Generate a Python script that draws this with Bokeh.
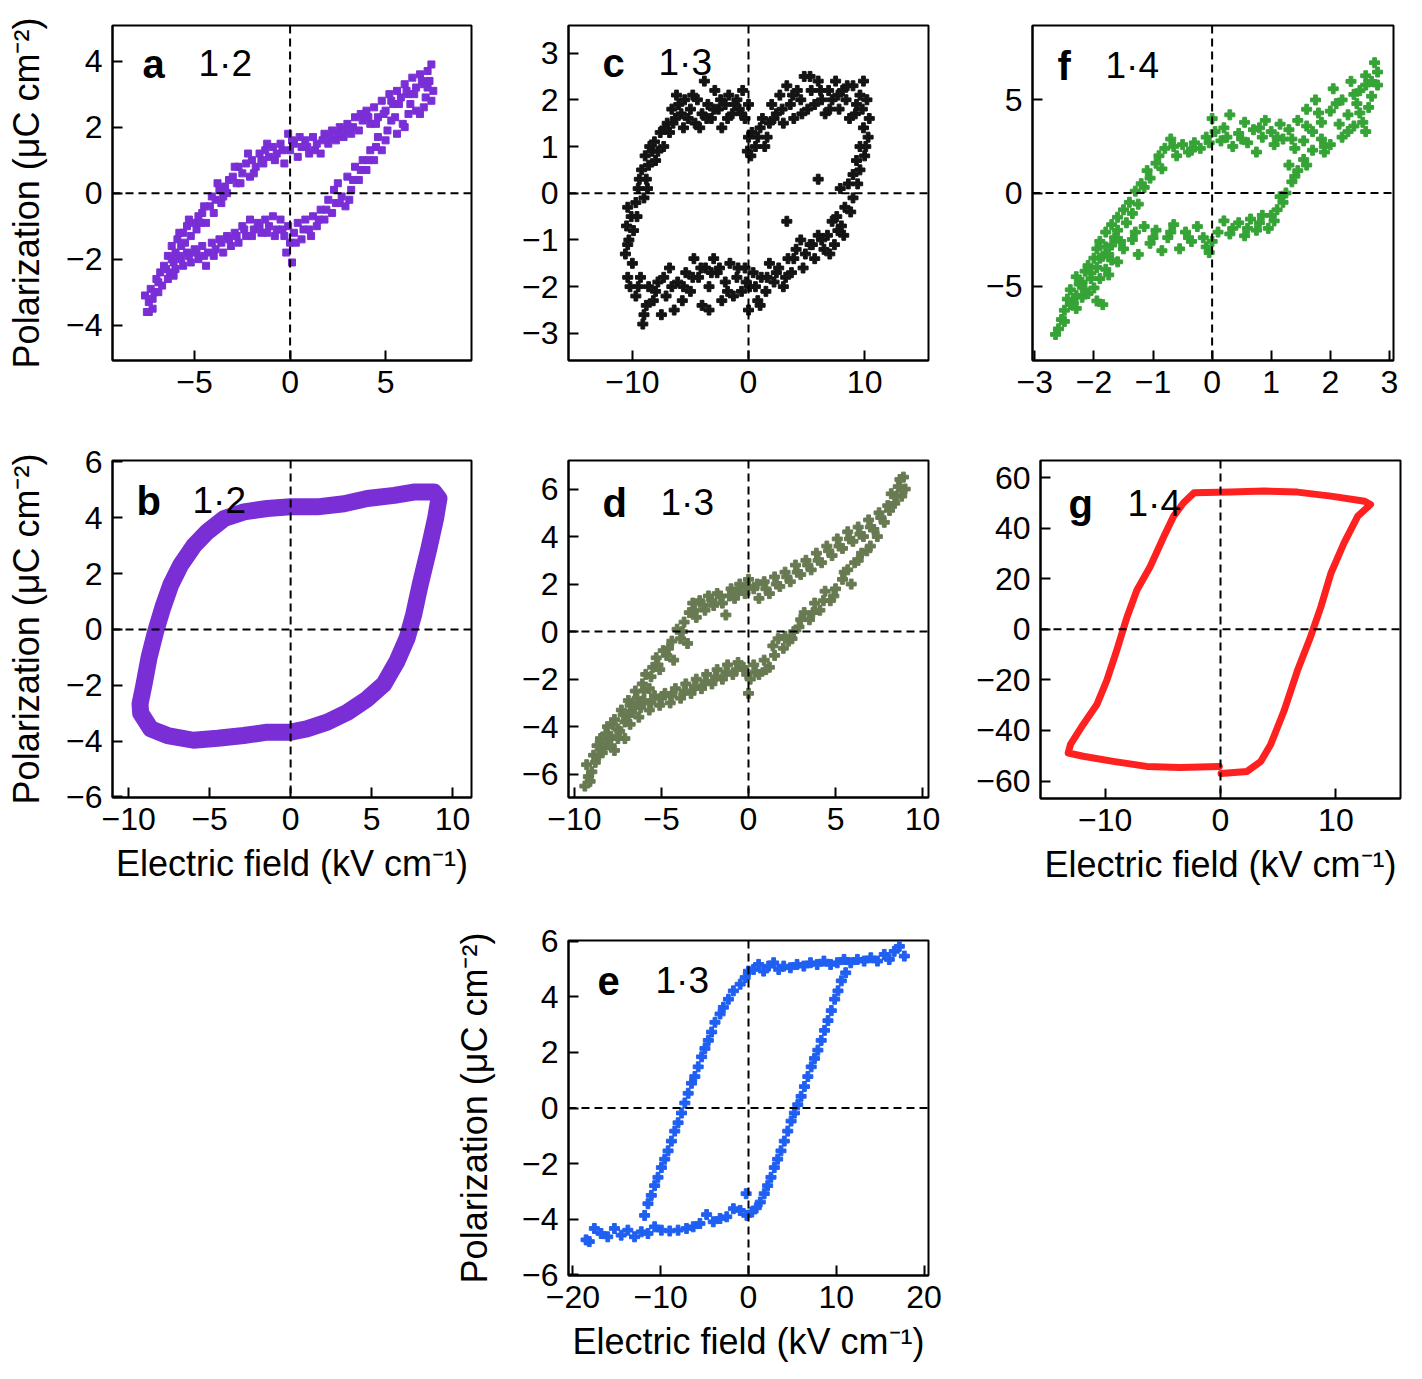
from bokeh.plotting import figure
from bokeh.layouts import row, column
from bokeh.models import Range1d, FixedTicker, CustomJSTickFormatter, Span, Label, Spacer
from bokeh.embed import file_html
from bokeh.resources import INLINE

FONT = "Liberation Sans"
Y_LABEL = "Polarization (\u03bcC cm\u207b\u00b2)"
X_LABEL = "Electric field (kV cm\u207b\u00b9)"

# ---------------- data ----------------
# panel a: composition 1.2, noisy loop (E in kV/cm, P in uC/cm2)
a_points = [
    (-7.5,-3.6), (-7.4,-3.3), (-7.6,-3.1), (-7.2,-3.5), (-7.3,-2.9), (-7.0,-2.6), (-7.1,-3.0), (-6.8,-2.4),
    (-6.9,-2.7), (-6.6,-2.2), (-6.4,-1.9), (-6.5,-2.3), (-6.2,-1.6), (-6.0,-1.8), (-5.9,-1.4), (-5.6,-1.2),
    (-5.7,-1.6), (-5.4,-1.0), (-5.2,-1.3), (-5.0,-0.9), (-4.8,-0.7), (-4.9,-1.1), (-4.6,-0.6), (-4.4,-0.9),
    (-4.2,-0.4), (-4.0,-0.6), (-3.9,-0.2), (-3.7,0.1), (-3.6,-0.3), (-3.4,0.2), (-3.2,0.4), (-3.3,0.0),
    (-3.0,0.5), (-2.8,0.3), (-2.7,0.8), (-2.5,0.6), (-2.3,0.9), (-2.1,0.5), (-2.0,1.0), (-1.8,0.8),
    (-1.6,1.2), (-1.4,0.9), (-1.3,1.3), (-1.1,1.1), (-0.9,1.4), (-0.7,1.2), (-0.5,1.5), (-0.3,0.9),
    (-0.1,1.8), (0.0,1.3), (0.2,1.5), (0.4,1.1), (0.6,1.4), (0.8,1.6), (1.0,1.2), (1.2,1.7),
    (1.4,1.5), (1.6,1.2), (1.8,1.8), (2.0,1.5), (2.2,1.9), (2.4,1.6), (2.6,2.0), (2.8,1.7),
    (3.0,2.1), (3.2,1.8), (3.4,2.3), (3.6,1.9), (3.8,2.2), (4.0,2.5), (4.2,2.1), (4.4,2.6),
    (4.6,2.3), (4.8,2.8), (5.0,2.5), (5.2,3.0), (5.4,2.7), (5.6,3.1), (5.8,2.9), (6.0,3.3),
    (6.2,3.0), (6.4,3.5), (6.6,3.2), (6.8,3.6), (7.0,3.3), (7.2,3.7), (7.4,3.9), (7.3,3.4),
    (7.5,3.1), (7.1,2.9),
    (-6.3,-2.4), (-6.1,-2.1), (-5.8,-1.2), (-5.5,-1.5), (-5.3,-0.8), (-4.7,-0.9), (-4.5,-0.4), (-4.1,-0.1),
    (-3.8,0.3), (-3.5,-0.1), (-2.9,0.8), (-2.6,0.3), (-2.2,1.2), (-1.9,0.6), (-1.5,1.0), (-1.2,1.5),
    (-0.8,1.0), (-0.4,1.3), (0.1,1.6), (0.5,1.7), (0.9,1.4), (1.3,1.3), (1.7,1.6), (2.1,1.7),
    (2.5,1.8), (2.9,1.9), (3.3,2.0), (3.7,2.4), (4.1,2.3), (4.5,2.1), (4.9,2.4), (5.3,2.8),
    (5.7,2.7), (6.1,3.1), (6.5,3.0), (6.9,3.4), (7.2,3.2), (6.3,2.7), (5.5,2.3),
    (7.4,2.8), (7.0,2.6), (6.6,2.5), (6.2,2.4), (5.9,2.1), (5.6,1.8), (5.3,2.2), (5.0,1.6),
    (4.8,1.3), (4.6,1.7), (4.4,1.0), (4.2,1.3), (4.0,0.7), (3.8,1.0), (3.6,0.4), (3.4,0.8),
    (3.2,0.1), (3.0,0.5), (2.9,-0.4), (3.1,-0.2), (2.7,-0.1), (2.5,0.3), (2.4,-0.3), (2.2,-0.6),
    (2.0,-0.2), (1.8,-0.8), (1.6,-0.5), (1.4,-1.0), (1.2,-0.7), (1.0,-1.1), (0.8,-0.8), (0.6,-1.4),
    (0.4,-0.9), (0.2,-1.2), (0.0,-1.5), (0.1,-2.1), (-0.1,-1.0), (-0.3,-1.3), (-0.5,-0.8), (-0.7,-1.1),
    (-0.9,-0.7), (-1.1,-1.0), (-1.3,-0.8), (-1.5,-1.2), (-1.7,-0.9), (-1.9,-1.1), (-2.1,-0.8), (-2.3,-1.3),
    (-2.5,-1.0), (-2.7,-1.5), (-2.9,-1.2), (-3.1,-1.6), (-3.3,-1.3), (-3.5,-1.8), (-3.7,-1.4), (-3.9,-1.7),
    (-4.1,-1.5), (-4.4,-2.2), (-4.3,-1.8), (-4.6,-1.6), (-4.8,-2.0), (-5.0,-1.7), (-5.2,-2.1), (-5.4,-1.8),
    (-5.6,-2.2), (-5.8,-1.9), (-6.0,-2.3), (-6.2,-2.0), (-6.4,-2.6), (-6.7,-2.8),
    (6.8,2.4), (6.0,2.0), (5.1,1.9), (4.5,1.4), (4.1,1.0), (3.7,0.7), (3.3,0.4), (2.6,-0.3),
    (2.3,0.1), (1.9,-0.5), (1.5,-0.8), (1.1,-1.3), (0.7,-1.1), (0.3,-1.5), (-0.2,-1.8), (-0.4,-1.1),
    (-0.8,-1.3), (-1.2,-1.2), (-1.6,-1.0), (-2.0,-1.3), (-2.4,-1.1), (-2.8,-1.3), (-3.2,-1.4), (-3.6,-1.5),
    (-4.0,-1.9), (-4.5,-1.9), (-4.9,-1.8), (-5.3,-1.9), (-5.7,-2.0), (-6.1,-2.5), (-6.9,-3.0), (-7.2,-3.2),
    (-7.4,-3.6),
]

# panel c: composition 1.3, noisy loop
c_points = [
    (-10.3,-1.0), (-10.5,-0.7), (-10.1,-0.5), (-10.4,-0.3), (-9.7,-0.2), (-9.5,0.1), (-9.0,-0.1), (-8.8,0.3),
    (-9.2,0.5), (-8.6,0.6), (-8.9,0.8), (-8.3,0.9), (-8.0,0.7), (-8.1,1.1), (-7.6,1.3), (-7.3,1.0),
    (-7.0,1.5), (-6.8,1.3), (-6.6,1.8), (-6.3,1.6), (-6.0,1.9), (-5.8,1.7), (-5.5,2.0), (-5.2,1.6),
    (-5.0,1.8), (-4.6,1.5), (-4.4,2.0), (-4.0,1.7), (-3.8,2.4), (-3.5,1.9), (-3.2,1.6), (-2.9,2.2),
    (-2.6,1.8), (-2.3,1.4), (-2.0,1.9), (-1.7,2.1), (-1.4,1.7), (-1.0,2.0), (-0.8,1.8), (-0.5,2.2),
    (-0.3,1.6), (0.0,1.9), (0.0,1.2), (-0.1,0.9), (0.3,1.3), (0.6,1.0), (1.0,1.4), (1.4,1.0),
    (1.2,1.6), (1.8,1.5), (2.0,1.9), (2.4,1.7), (2.7,2.1), (3.0,1.5), (3.3,2.3), (3.6,1.9),
    (3.9,1.6), (4.2,2.2), (4.5,2.0), (4.8,2.5), (5.1,1.8), (5.4,2.2), (5.7,1.9), (6.0,2.4),
    (6.3,2.0), (6.6,1.7), (6.9,2.2), (7.2,2.0), (7.5,2.4), (7.8,1.8), (8.1,2.2), (8.4,2.0),
    (8.7,1.6), (9.0,2.3), (9.3,1.9), (9.6,2.1), (9.9,2.4), (10.2,2.0), (10.4,1.6),
    (9.9,1.4), (10.3,1.2), (9.6,1.0), (10.0,0.8), (9.3,0.7), (9.6,0.5), (9.0,0.4), (8.6,0.2),
    (9.0,-0.1), (8.3,-0.3), (7.9,0.1), (7.6,-0.5), (8.0,-0.7), (7.2,-0.6), (6.8,-0.9), (7.4,-1.1),
    (6.5,-1.2), (6.0,-0.9), (5.7,-1.4), (5.3,-1.1), (4.9,-1.3), (4.5,-1.0), (4.1,-1.2), (3.7,-1.7),
    (3.4,-1.4), (3.0,-2.0), (2.6,-1.6), (2.2,-1.9), (1.8,-1.5), (1.5,-2.1), (1.1,-1.8), (0.8,-2.3),
    (0.4,-1.7), (0.1,-2.0), (0.0,-2.5), (-0.3,-1.6), (-0.6,-2.1), (-1.0,-1.8), (-1.3,-2.2), (-1.6,-1.5),
    (-2.0,-1.9), (-2.3,-2.3), (-2.7,-1.7), (-3.0,-1.4), (-3.4,-2.0), (-3.7,-1.6), (-4.0,-2.4), (-4.3,-1.8),
    (-4.7,-1.4), (-5.0,-2.1), (-5.4,-1.7), (-5.7,-2.3), (-6.1,-1.9), (-6.4,-2.5), (-6.8,-1.6), (-7.1,-2.2),
    (-7.5,-2.6), (-7.8,-1.9), (-8.2,-2.3), (-8.6,-2.0), (-9.0,-2.6), (-9.3,-1.8), (-9.7,-2.2), (-10.0,-1.5),
    (-10.4,-1.8), (-10.6,-1.3), (-9.1,-2.8), (-3.4,-2.5), (1.0,-2.4), (3.3,-0.6), (6.0,0.3),
    (-9.9,-0.8), (-9.6,-0.5), (-9.4,0.3), (-8.7,0.1), (-8.5,1.0), (-7.8,0.9), (-7.2,1.4), (-6.5,1.5),
    (-6.2,2.1), (-5.6,1.4), (-4.8,2.1), (-4.2,1.4), (-3.6,1.6), (-3.0,1.8), (-2.4,2.0), (-1.8,1.6),
    (-1.2,1.9), (-0.6,1.7), (0.2,0.8), (0.8,1.2), (1.6,1.2), (2.2,1.6), (2.9,1.8), (3.8,2.1),
    (4.6,1.7), (5.3,2.5), (6.2,2.2), (7.0,1.8), (7.7,2.1), (8.5,2.3), (9.2,1.7), (9.8,1.8),
    (10.1,1.0), (9.4,0.2), (8.8,-0.4), (8.2,-0.9), (7.7,-0.8), (7.0,-1.3), (6.3,-1.0), (5.5,-1.1),
    (4.7,-1.6), (3.9,-1.4), (3.2,-1.8), (2.4,-1.7), (1.6,-1.8), (0.6,-2.0), (-0.2,-1.9), (-0.9,-1.6),
    (-1.8,-2.1), (-2.5,-1.6), (-3.2,-1.7), (-4.1,-1.6), (-4.8,-1.8), (-5.6,-2.0), (-6.6,-2.0), (-7.3,-1.8),
    (-8.0,-2.1), (-8.8,-2.4), (-9.5,-2.0), (-10.2,-2.0), (-10.4,-1.1),
]

# panel f: composition 1.4, noisy loop
f_points = [
    (-2.65,-7.6), (-2.6,-7.3), (-2.55,-6.8), (-2.5,-6.3), (-2.45,-5.7), (-2.4,-5.2), (-2.35,-5.9), (-2.3,-4.5),
    (-2.25,-4.9), (-2.2,-5.6), (-2.15,-4.2), (-2.1,-3.9), (-2.1,-5.4), (-2.05,-4.6), (-2.0,-3.5), (-1.95,-3.0),
    (-1.95,-5.8), (-1.9,-2.6), (-1.85,-3.4), (-1.8,-2.1), (-1.75,-4.4), (-1.7,-1.7), (-1.65,-2.4), (-1.6,-1.3),
    (-1.5,-0.9), (-1.45,-1.6), (-1.4,-0.5), (-1.3,0.1), (-1.25,-0.6), (-1.2,0.5), (-1.1,1.2), (-1.05,0.8),
    (-0.95,1.6), (-0.85,1.3), (-0.8,2.4), (-0.7,2.9), (-0.6,2.0), (-0.5,2.6), (-0.4,2.2), (-0.3,2.7),
    (-0.2,2.4), (-0.1,3.0), (0.0,4.0), (0.05,3.3), (0.15,2.8), (0.2,3.5), (0.3,4.2), (0.35,2.5),
    (0.45,3.2), (0.55,3.8), (0.6,2.7), (0.7,3.4), (0.75,2.2), (0.85,3.0), (0.9,3.9), (1.0,3.3),
    (1.05,2.6), (1.15,3.7), (1.2,2.9), (1.3,3.4), (1.4,2.4), (1.45,3.9), (1.55,2.8), (1.6,4.5),
    (1.7,3.3), (1.75,5.0), (1.85,3.8), (1.9,2.5), (2.0,4.4), (2.05,5.6), (2.15,3.7), (2.2,5.0),
    (2.3,4.2), (2.35,6.0), (2.45,4.8), (2.5,5.5), (2.55,3.8), (2.6,6.3), (2.65,4.6), (2.7,5.2),
    (2.75,7.0), (2.8,5.8), (2.8,6.5),
    (2.6,3.3), (2.4,3.6), (2.2,3.0), (2.0,2.6), (1.85,2.9), (1.7,2.3), (1.55,1.8), (1.45,1.2),
    (1.35,0.6), (1.3,1.5), (1.25,0.0), (1.2,-0.5), (1.1,-0.9), (1.05,-1.5), (0.95,-1.9), (0.85,-1.2),
    (0.75,-2.0), (0.65,-1.4), (0.55,-2.3), (0.45,-1.6), (0.35,-1.9), (0.2,-1.5), (0.1,-2.1), (0.0,-2.6),
    (-0.05,-3.2), (-0.15,-2.4), (-0.25,-1.8), (-0.35,-2.6), (-0.45,-2.1), (-0.55,-3.0), (-0.65,-1.7), (-0.75,-2.4),
    (-0.85,-3.1), (-0.95,-2.0), (-1.05,-2.7), (-1.15,-1.8), (-1.25,-3.3), (-1.35,-2.5), (-1.5,-3.0), (-1.6,-3.7),
    (-1.7,-2.8), (-1.8,-4.1), (-1.9,-3.5), (-1.85,-6.0),
    (-2.5,-6.9), (-2.4,-6.0), (-2.3,-5.5), (-2.2,-4.8), (-2.05,-4.3), (-2.0,-5.1), (-1.9,-4.6), (-1.8,-2.9),
    (-1.7,-3.6), (-1.6,-2.0), (-1.35,-1.1), (-1.15,0.3), (-0.9,2.0), (-0.65,2.5), (-0.35,2.3), (-0.05,2.7),
    (0.25,3.0), (0.5,2.9), (0.8,3.5), (1.1,3.0), (1.35,2.9), (1.6,3.6), (1.8,4.3), (2.1,4.8),
    (2.4,5.3), (2.6,5.8), (2.7,6.0), (2.5,4.3), (2.3,3.3), (1.9,2.2), (1.6,1.5), (1.4,0.9),
    (1.15,-0.2), (1.0,-1.2), (0.8,-1.6), (0.6,-1.9), (0.3,-2.2), (-0.1,-2.9), (-0.4,-2.4), (-0.7,-2.1),
    (-1.0,-2.4), (-1.3,-2.1), (-1.55,-2.6), (-1.75,-3.3), (-1.95,-4.0), (-2.15,-5.2), (-2.3,-6.2),
]

# panel b: composition 1.2, dense loop (traced centre line of the band)
b_loop = [
    (-9.26,-3.0), (-8.64,-3.56), (-7.6,-3.8), (-6.0,-3.97), (-4.5,-3.9), (-2.9,-3.8), (-1.44,-3.68),
    (0.0,-3.68), (1.0,-3.56), (2.26,-3.32), (3.5,-2.97), (4.73,-2.49), (5.76,-1.96), (6.58,-1.13),
    (7.2,-0.3), (7.6,0.53), (8.0,1.6), (8.54,2.9), (8.95,3.97), (9.16,4.69), (8.85,4.92), (7.6,4.92),
    (6.4,4.8), (4.73,4.69), (3.3,4.5), (1.65,4.39), (0.0,4.39), (-1.44,4.33), (-2.88,4.21), (-4.1,3.97),
    (-5.14,3.5), (-5.97,3.0), (-6.8,2.3), (-7.4,1.6), (-7.9,0.77), (-8.33,-0.06), (-8.74,-1.0),
    (-9.05,-1.96), (-9.3,-2.67), (-9.26,-3.0),
]

# panel d: composition 1.3, noisy loop
d_points = [
    (-9.4,-6.5), (-9.2,-6.1), (-9.3,-5.6), (-9.0,-5.9), (-8.9,-5.2), (-8.7,-4.8), (-8.8,-5.5), (-8.5,-4.5),
    (-8.3,-4.9), (-8.1,-4.0), (-7.9,-4.4), (-7.7,-3.7), (-7.5,-4.1), (-7.3,-3.3), (-7.1,-3.8), (-6.9,-2.9),
    (-6.7,-3.4), (-6.5,-2.5), (-6.3,-3.0), (-6.1,-2.2), (-5.9,-1.8), (-5.7,-2.4), (-5.5,-1.5), (-5.3,-1.1),
    (-5.1,-1.6), (-4.9,-0.8), (-4.6,-0.7), (-4.3,-1.2), (-4.1,0.1), (-3.9,-0.3), (-3.7,0.4), (-3.5,-0.5),
    (-3.4,0.8), (-3.2,1.2), (-3.0,0.6), (-2.8,1.3), (-2.5,0.9), (-2.3,1.5), (-2.0,1.1), (-1.8,1.6),
    (-1.5,1.2), (-1.3,0.7), (-1.0,1.8), (-0.8,1.4), (-0.5,2.0), (-0.2,1.6), (0.0,2.2), (0.3,1.8),
    (0.6,1.4), (0.9,2.1), (1.2,1.6), (1.5,2.3), (1.8,1.9), (2.1,2.5), (2.4,2.1), (2.7,2.8),
    (3.0,2.4), (3.3,3.0), (3.6,2.6), (3.9,3.3), (4.2,2.9), (4.5,3.6), (4.8,3.2), (5.1,3.9),
    (5.4,3.5), (5.7,4.2), (6.0,3.8), (6.3,4.4), (6.6,4.0), (6.9,4.7), (7.2,4.3), (7.5,5.0),
    (7.8,4.6), (8.0,5.3), (8.2,5.8), (8.4,5.4), (8.6,6.1), (8.8,5.7), (8.9,6.5), (9.0,6.0),
    (-9.1,-6.3), (-8.6,-5.2), (-8.2,-4.3), (-7.8,-3.9), (-7.2,-3.5), (-6.8,-3.1), (-6.4,-2.8), (-6.0,-2.5),
    (-5.6,-1.9), (-5.2,-1.4), (-4.7,-1.0), (-4.4,-0.4), (-3.8,0.0), (-3.1,0.9), (-2.6,1.1), (-2.1,1.3),
    (-1.6,1.5), (-1.1,1.5), (-0.6,1.7), (-0.1,1.9), (0.5,2.0), (1.0,1.8), (1.6,2.0), (2.2,2.3),
    (2.8,2.5), (3.4,2.8), (4.0,3.0), (4.6,3.4), (5.2,3.6), (5.8,3.9), (6.4,4.1), (7.0,4.4),
    (7.6,4.8), (8.1,5.1), (8.5,5.7), (8.7,6.4),
    (7.4,4.0), (7.0,3.6), (6.5,3.3), (6.1,2.9), (5.7,2.6), (5.9,2.0), (5.4,2.2), (5.0,1.8),
    (4.7,1.3), (4.4,1.7), (4.1,0.9), (3.8,1.2), (3.5,0.5), (3.2,0.8), (2.9,0.2), (2.6,0.0),
    (2.3,-0.4), (2.0,-0.7), (1.7,-0.3), (1.5,-1.0), (1.2,-1.5), (0.9,-1.2), (0.6,-1.8), (0.3,-1.4),
    (0.1,-2.0), (0.0,-2.6), (-0.3,-1.5), (-0.6,-1.3), (-0.9,-1.8), (-1.2,-1.4), (-1.5,-2.0), (-1.8,-1.6),
    (-2.1,-2.2), (-2.4,-1.8), (-2.7,-2.4), (-3.0,-2.0), (-3.3,-2.6), (-3.6,-2.2), (-3.9,-2.8), (-4.2,-2.4),
    (-4.5,-3.0), (-4.8,-2.6), (-5.1,-3.1), (-5.4,-2.7), (-5.7,-3.3), (-6.0,-2.9), (-6.3,-3.6), (-6.6,-3.2),
    (-6.8,-3.9), (-7.1,-4.5), (-7.4,-4.2), (-7.7,-5.0), (-8.1,-4.6),
    (6.8,3.4), (6.3,3.0), (5.5,2.5), (4.9,1.5), (4.3,1.3), (3.7,0.8), (3.0,0.5), (2.5,-0.3),
    (2.1,-0.2), (1.4,-0.6), (1.0,-1.6), (0.4,-1.7), (-0.1,-1.8), (-0.7,-1.6), (-1.3,-1.7), (-1.9,-1.9),
    (-2.5,-2.1), (-3.1,-2.3), (-3.7,-2.5), (-4.4,-2.7), (-5.0,-2.8), (-5.6,-3.0), (-6.2,-3.2), (-6.9,-3.5),
    (-7.5,-4.5), (-7.9,-4.8), (-8.4,-5.1),
]

# panel g: composition 1.4, dense loop (traced line)
g_loop = [
    (0.05,-57.0), (2.3,-56.2), (3.5,-52.2), (4.35,-45.5), (5.5,-32.3), (6.67,-16.3), (7.8,-3.0),
    (8.7,8.9), (9.57,22.2), (10.7,34.1), (11.9,44.8), (13.0,49.4), (12.5,50.7), (9.57,52.7),
    (6.67,54.3), (3.77,54.7), (0.87,54.3), (-2.3,54.0), (-3.2,50.1), (-4.06,44.8), (-4.9,36.8),
    (-6.1,24.8), (-7.25,15.5), (-8.1,4.9), (-9.0,-8.4), (-9.86,-20.3), (-10.7,-29.6), (-11.9,-37.6),
    (-13.0,-45.5), (-13.2,-48.9), (-11.9,-50.2), (-9.3,-52.2), (-6.4,-54.2), (-3.5,-54.6), (-0.1,-54.2),
]

# panel e: composition 1.3, loop of separate points
e_points = [
    (-11.83,-3.86), (-11.45,-3.44), (-11.07,-3.14), (-10.69,-2.79), (-10.31,-2.49), (-9.92,-2.14),
    (-9.54,-1.84), (-9.16,-1.54), (-8.78,-1.19), (-8.40,-0.83), (-8.02,-0.53), (-7.63,-0.18),
    (-7.25,0.18), (-6.87,0.53), (-6.49,0.89), (-6.11,1.13), (-5.73,1.48), (-5.34,1.84),
    (-4.96,2.14), (-4.58,2.43), (-4.20,2.73), (-3.82,3.08), (-3.24,3.38), (-2.86,3.62),
    (-2.29,3.91), (-1.72,4.21), (-0.95,4.45), (-0.38,4.69), (0.0,4.92),
    (0.57,4.98), (1.15,5.16), (1.72,4.92), (2.29,5.10), (2.86,5.22), (3.44,4.98), (4.01,5.10),
    (4.77,5.04), (5.53,5.16), (6.30,5.10), (7.06,5.22), (7.82,5.16), (8.59,5.28), (9.35,5.16),
    (10.11,5.22), (10.88,5.34), (11.64,5.22), (12.40,5.34), (13.17,5.28), (13.93,5.40), (14.69,5.28),
    (15.46,5.52), (16.03,5.34), (16.60,5.63), (17.18,5.81), (17.75,5.46),
    (11.07,4.86), (10.57,4.57), (10.19,4.21), (9.81,3.91), (9.43,3.50), (9.05,3.14), (8.66,2.79),
    (8.28,2.43), (7.90,2.08), (7.52,1.78), (7.14,1.48), (6.76,1.13), (6.37,0.77), (5.99,0.42),
    (5.61,0.12), (5.23,-0.18), (4.85,-0.47), (4.47,-0.83), (4.08,-1.19), (3.70,-1.54), (3.32,-1.84),
    (2.94,-2.14), (2.56,-2.49), (2.18,-2.79), (1.79,-3.08), (1.34,-3.38), (0.88,-3.59), (0.38,-3.74),
    (-0.19,-3.86), (-0.27,-3.08),
    (-0.95,-3.68), (-1.72,-3.62), (-2.48,-3.91), (-3.24,-3.97), (-4.01,-4.09), (-4.77,-3.83),
    (-5.53,-4.15), (-6.30,-4.27), (-7.06,-4.33), (-8.02,-4.39), (-8.97,-4.42), (-9.92,-4.39),
    (-10.69,-4.27), (-11.45,-4.51), (-12.21,-4.45), (-12.98,-4.63), (-13.74,-4.39), (-14.50,-4.57),
    (-15.27,-4.33), (-16.03,-4.63), (-16.79,-4.51), (-17.56,-4.33), (-18.13,-4.80), (-18.5,-4.74),
]

# tick values
a_xticks, a_yticks = [-5, 0, 5], [-4, -2, 0, 2, 4]
c_xticks, c_yticks = [-10, 0, 10], [-3, -2, -1, 0, 1, 2, 3]
f_xticks, f_yticks = [-3, -2, -1, 0, 1, 2, 3], [-5, 0, 5]
b_xticks, b_yticks = [-10, -5, 0, 5, 10], [-6, -4, -2, 0, 2, 4, 6]
d_xticks, d_yticks = [-10, -5, 0, 5, 10], [-6, -4, -2, 0, 2, 4, 6]
g_xticks, g_yticks = [-10, 0, 10], [-60, -40, -20, 0, 20, 40, 60]
e_xticks, e_yticks = [-20, -10, 0, 10, 20], [-6, -4, -2, 0, 2, 4, 6]

PURPLE = "#7a2ed6"
BLACK = "#141414"
GREEN = "#36a336"
OLIVE = "#687a52"
RED = "#ff2020"
BLUE = "#1f5ff2"

FMT = "return tick < 0 ? '\u2212' + (-tick) : '' + tick;"


def panel(xr, yr, fw, fh, borders, xticks, yticks, letter, num, lab_pos,
          xlabel=None, ylabel=None, ystand=16):
    lb, rb, tb, bb = borders
    p = figure(frame_width=fw, frame_height=fh,
               x_range=Range1d(*xr), y_range=Range1d(*yr),
               output_backend="svg", toolbar_location=None,
               min_border_left=lb, min_border_right=rb,
               min_border_top=tb, min_border_bottom=bb)
    p.grid.visible = False
    p.outline_line_color = "black"
    p.outline_line_width = 2
    p.outline_line_alpha = 1
    p.background_fill_color = "white"
    p.border_fill_color = "white"
    for ax, ticks in ((p.xaxis[0], xticks), (p.yaxis[0], yticks)):
        ax.ticker = FixedTicker(ticks=ticks)
        ax.formatter = CustomJSTickFormatter(code=FMT)
        ax.major_tick_in = 10
        ax.major_tick_out = 0
        ax.minor_tick_line_color = None
        ax.major_tick_line_width = 2
        ax.major_tick_line_color = "black"
        ax.axis_line_width = 2
        ax.axis_line_color = "black"
        ax.major_label_text_font = FONT
        ax.major_label_text_font_size = "32px"
        ax.major_label_text_color = "black"
        ax.major_label_standoff = 10
        ax.axis_label_text_font = FONT
        ax.axis_label_text_font_size = "36px"
        ax.axis_label_text_font_style = "normal"
        ax.axis_label_text_color = "black"
    if xlabel:
        p.xaxis[0].axis_label = xlabel
        p.xaxis[0].axis_label_standoff = 10
    if ylabel:
        p.yaxis[0].axis_label = ylabel
        p.yaxis[0].axis_label_standoff = ystand
    for dim in ("width", "height"):
        p.add_layout(Span(location=0, dimension=dim, line_color="black",
                          line_width=2, line_dash="8 5"))
    lx, nx, base = lab_pos
    p.add_layout(Label(x=lx, y=fh - base, x_units="screen", y_units="screen",
                       text=letter, text_font=FONT, text_font_style="bold",
                       text_font_size="40px", text_color="black",
                       text_baseline="alphabetic"))
    p.add_layout(Label(x=nx, y=fh - base, x_units="screen", y_units="screen",
                       text=num, text_font=FONT, text_font_size="37px",
                       text_color="black", text_baseline="alphabetic"))
    return p


def xs(pts):
    return [q[0] for q in pts]


def ys(pts):
    return [q[1] for q in pts]


# row 1
pa = panel((-9.3, 9.5), (-5.07, 5.08), 359, 335, (112, 29, 25, 80),
           a_xticks, a_yticks, "a", "1\u00b72", (30, 86, 38), ylabel=Y_LABEL)
pa.scatter(xs(a_points), ys(a_points), marker="square", size=7,
           fill_color=PURPLE, line_color=PURPLE)

pc = panel((-15.5, 15.5), (-3.58, 3.59), 360, 335, (68, 54, 25, 80),
           c_xticks, c_yticks, "c", "1\u00b73", (34, 90, 37))
pc.scatter(xs(c_points), ys(c_points), marker="plus", size=10,
           fill_color=BLACK, line_color=BLACK)

pf = panel((-3.04, 3.07), (-9.0, 9.0), 361, 335, (50, 21, 25, 80),
           f_xticks, f_yticks, "f", "1\u00b74", (25, 73, 40))
pf.scatter(xs(f_points), ys(f_points), marker="plus", size=10,
           fill_color=GREEN, line_color=GREEN)

# row 2
pb = panel((-11.0, 11.17), (-6.02, 6.05), 359, 337, (112, 29, 18, 125),
           b_xticks, b_yticks, "b", "1\u00b72", (24, 80, 40),
           xlabel=X_LABEL, ylabel=Y_LABEL)
pb.line(xs(b_loop), ys(b_loop), line_color=PURPLE, line_width=17,
        line_join="round", line_cap="round")

pd_ = panel((-10.34, 10.34), (-6.98, 7.2), 360, 337, (68, 32, 18, 125),
            d_xticks, d_yticks, "d", "1\u00b73", (34, 92, 42))
pd_.scatter(xs(d_points), ys(d_points), marker="plus", size=10,
            fill_color=OLIVE, line_color=OLIVE)

pg = panel((-15.6, 15.6), (-66.9, 66.8), 360, 338, (80, 14, 20, 122),
           g_xticks, g_yticks, "g", "1\u00b74", (28, 87, 43), xlabel=X_LABEL)
pg.line(xs(g_loop), ys(g_loop), line_color=RED, line_width=7,
        line_join="round", line_cap="round")

# row 3
pe = panel((-20.5, 20.5), (-6.02, 6.02), 360, 335, (120, 62, 20, 95),
           e_xticks, e_yticks, "e", "1\u00b73", (29, 87, 40),
           xlabel=X_LABEL, ylabel=Y_LABEL, ystand=24)
pe.scatter(xs(e_points), ys(e_points), marker="plus", size=10,
           fill_color=BLUE, line_color=BLUE)

layout = column(
    row(pa, pc, pf),
    row(pb, pd_, pg),
    row(Spacer(width=448, height=450), pe),
)

with open("out.html", "w") as fh:
    fh.write(file_html(layout, INLINE))
